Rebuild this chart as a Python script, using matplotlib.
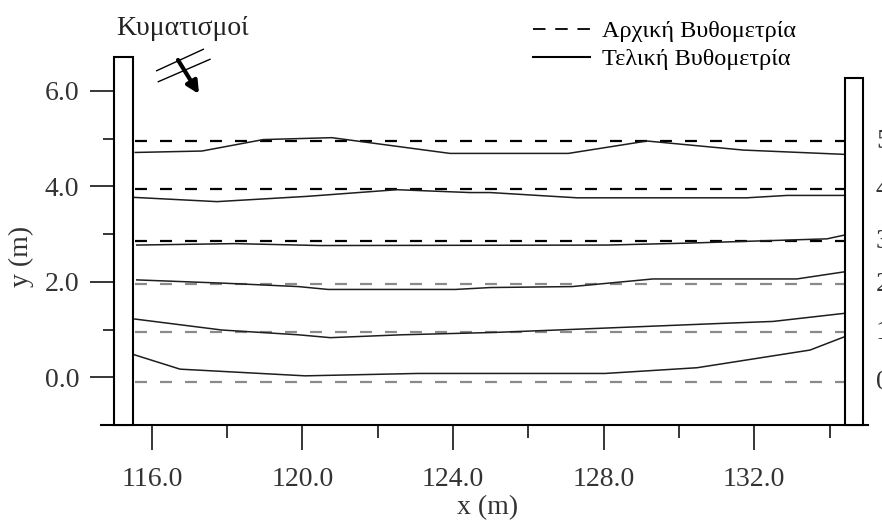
import matplotlib
matplotlib.use("Agg")
import matplotlib.pyplot as plt
from matplotlib.patches import Rectangle
from matplotlib.lines import Line2D

plt.rcParams['font.family'] = ['Liberation Serif', 'DejaVu Serif']
plt.rcParams['lines.scale_dashes'] = False

# αρχική βυθομετρία (οριζόντιες στάθμες)
profiles = ["0", "1", "2", "3", "4", "5"]
y_init = [-0.10, 0.94, 1.95, 2.85, 3.94, 4.94]
x_init = [115.55, 134.5]

# τελική βυθομετρία
x0 = [115.5, 116.75, 120.07, 123.07, 128.04, 130.48, 133.48, 134.4]
y0 = [0.48, 0.17, 0.03, 0.08, 0.08, 0.20, 0.57, 0.85]
x1 = [115.55, 117.86, 119.89, 120.74, 122.64, 125.12, 126.76, 131.17, 132.50, 134.4]
y1 = [1.22, 0.99, 0.89, 0.83, 0.89, 0.94, 0.99, 1.13, 1.17, 1.34]
x2 = [115.6, 117.95, 119.89, 120.68, 124.06, 124.99, 127.16, 129.31, 133.13, 134.4]
y2 = [2.04, 1.97, 1.90, 1.84, 1.84, 1.88, 1.90, 2.06, 2.06, 2.21]
x3 = [115.6, 118.2, 120.47, 128.09, 130.21, 133.93, 134.4]
y3 = [2.77, 2.80, 2.76, 2.77, 2.81, 2.90, 2.98]
x4 = [115.5, 117.73, 120.12, 122.51, 124.45, 124.99, 127.29, 131.80, 132.87, 134.4]
y4 = [3.77, 3.68, 3.79, 3.93, 3.87, 3.87, 3.76, 3.76, 3.81, 3.81]
x5 = [115.56, 117.33, 118.96, 120.78, 123.92, 127.06, 129.15, 131.71, 134.4]
y5 = [4.71, 4.74, 4.98, 5.02, 4.69, 4.69, 4.95, 4.76, 4.67]
x_final = [x0, x1, x2, x3, x4, x5]
y_final = [y0, y1, y2, y3, y4, y5]

# τοιχώματα: (x αρχή, πλάτος, ύψος)
walls = [(115.0, 0.5, 6.72), (134.41, 0.48, 6.26)]

xticks = [116, 120, 124, 128, 132]
xticklabels = ["116.0", "120.0", "124.0", "128.0", "132.0"]
yticks = [0, 2, 4, 6]
yticklabels = ["0.0", "2.0", "4.0", "6.0"]

W, H = 882, 521
fig = plt.figure(figsize=(W / 100, H / 100), dpi=100)
xmin, xmax = 114.65, 135.02
ymin, ymax = -1.0, 7.45
px_y = 47.73
ax = fig.add_axes([101 / W, (H - 425) / H, 767 / W, (ymax - ymin) * px_y / H])
ax.set_xlim(xmin, xmax)
ax.set_ylim(ymin, ymax)


def fpt(px, py):
    # pixel της εικόνας -> figure fraction
    return (px / W, 1 - py / H)


dash = (0, (8.6, 9.4))
for i in range(len(y_init)):
    c = 'black' if i >= 3 else '#8a8a8a'
    ax.plot(x_init, [y_init[i], y_init[i]], color=c, lw=1.6, linestyle=dash, zorder=2)

for i in range(len(x_final)):
    ax.plot(x_final[i], y_final[i], color='#1e1e1e', lw=1.1, zorder=3)

for (wx, ww, wh) in walls:
    ax.add_patch(Rectangle((wx, ymin), ww, wh - ymin, facecolor='white',
                           edgecolor='black', lw=1.5, zorder=5, clip_on=False))

# αριθμοί τομών δεξιά (κομμένοι στην άκρη όπως στο πρωτότυπο)
for i in range(len(profiles)):
    ax.annotate(profiles[i], xy=(876 / W, y_init[i]), xycoords=('figure fraction', 'data'),
                fontsize=20, color='#333333', va='center', ha='left', annotation_clip=False)

ax.spines['top'].set_visible(False)
ax.spines['right'].set_visible(False)
ax.spines['left'].set_position(('data', 115.0))
ax.spines['left'].set_bounds(ymin, 6.72)
ax.spines['bottom'].set_linewidth(1.5)

ax.set_xticks(xticks)
ax.set_xticklabels(xticklabels)
ax.set_xticks([118, 122, 126, 130, 134], minor=True)
ax.set_yticks(yticks)
ax.set_yticklabels(yticklabels)
ax.set_yticks([-1, 1, 3, 5], minor=True)
ax.tick_params(axis='x', which='major', length=18, width=1.1, pad=12, labelsize=20, labelcolor='#333333')
ax.tick_params(axis='x', which='minor', length=9.4, width=1.1)
ax.tick_params(axis='y', which='major', length=17, width=1.1, pad=8, labelsize=20, labelcolor='#333333')
ax.tick_params(axis='y', which='minor', length=8, width=1.1)

fig.text(*fpt(488, 508), "x (m)", fontsize=20, color='#333333', ha='center', va='center')
fig.text(*fpt(21, 256), "y (m)", fontsize=20, color='#333333', ha='center', va='center',
         rotation=90)

# κυματισμοί
fig.text(*fpt(116, 35), "Κυματισμοί", fontsize=20, color='#222222', ha='left', va='baseline')
fig.add_artist(Line2D([156.7 / W, 203.3 / W], [1 - 70.7 / H, 1 - 49.3 / H], color='black', lw=1))
fig.add_artist(Line2D([158.3 / W, 210 / W], [1 - 81.7 / H, 1 - 59.3 / H], color='black', lw=1))
ax.annotate("", xy=fpt(199, 94), xytext=fpt(178, 60), xycoords='figure fraction',
            textcoords='figure fraction',
            arrowprops=dict(arrowstyle='-|>', lw=3, color='black', mutation_scale=18,
                            shrinkA=0, shrinkB=0))

handles = [Line2D([], [], color='black', lw=1.3, linestyle=(0, (9, 7))),
           Line2D([], [], color='black', lw=1.5)]
ax.legend(handles, ["Αρχική Βυθομετρία", "Τελική Βυθομετρία"], loc='upper left',
          bbox_to_anchor=fpt(533, 20), bbox_transform=fig.transFigure,
          frameon=False, fontsize=17.5, handlelength=2.35, handletextpad=0.5,
          labelspacing=0.25, borderpad=0, borderaxespad=0)

fig.savefig("out.png", dpi=100)
